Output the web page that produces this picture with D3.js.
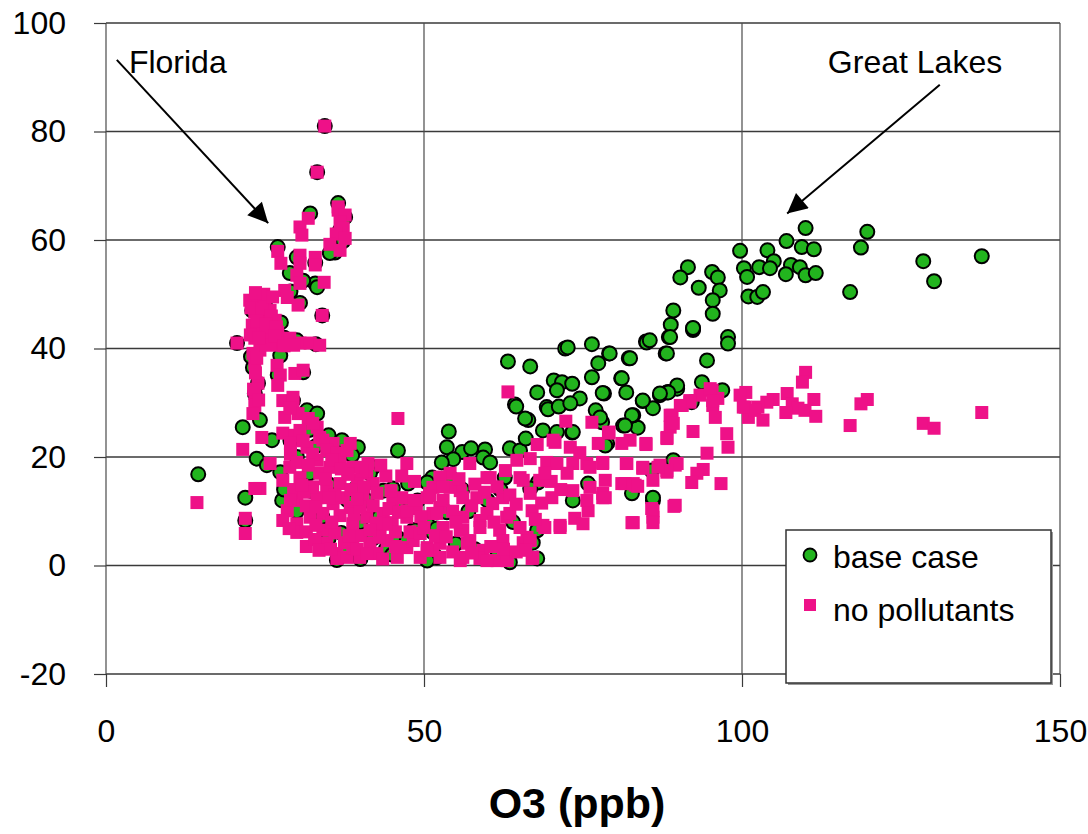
<!DOCTYPE html>
<html>
<head>
<meta charset="utf-8">
<script src="https://cdn.jsdelivr.net/npm/d3@7"></script>
<style>
  html, body { margin: 0; padding: 0; background: #fff; }
  svg { display: block; font-family: "Liberation Sans", Arial, sans-serif; }
</style>
</head>
<body>
<svg id="chart" width="1088" height="834"></svg>
<script>
// O3 (ppb) vs. response, two model runs
const xTicks = [0, 50, 100, 150];
const yTicks = [-20, 0, 20, 40, 60, 80, 100];
const seriesNames = ["base case", "no pollutants"];
const xTitle = "O3 (ppb)";

// base case: [O3 ppb, value]
const baseCase = [
  // Florida branch
  [34.4,81],[33.2,72.5],[36.5,66.8],[32.1,64.9],[37.6,64.2],[36.8,61.8],[37.3,59.8],[36,57.7],[35.2,57.6],
  [27,58.7],[30,56.8],[32.9,55.8],[28.9,53.9],[32.9,52],[33.2,51.3],[34,46.1],[29,50.5],[31,52.5],[30.5,48.4],
  [23.1,36.5],[27.4,38.7],[31,35.6],[20.6,41],[24,44],[26,41.2],[23,47],[25,48],[28,42],[30,41.5],[33,40.8],
  [27.5,44.8],[22.8,38.5],[23.9,33.6],[23.4,31.7],[27,35.1],[29.4,30.4],
  [21.5,25.5],[24.2,26.8],[23.7,19.7],[25.3,18.5],[26.1,23.1],[31.6,28.6],[33.2,28],[37.1,23.1],[39.6,21.8],
  [38.7,20.3],[42,18.1],[41.5,17],[45.9,21.2],[47.5,15.1],[47.5,11.4],[43.6,13.8],[45.1,14.2],[45.9,10.7],
  [32.1,13.8],[27.7,12],[27.4,17.2],[36.3,1],[48.3,6.5],[50.5,7],[51.4,6.1],[51.4,2.2],[14.5,16.8],[21.9,12.5],[21.9,8.3],
  [30,20],[33,22],[35,15],[38,12],[40,8],[42,5],[35,5],[38,2.5],[40,1.2],[44,3],[46,5],[30,10],[28,14],[32,17],
  [36,19],[34,9],[37,6],[39,14],[43,9],[45,2],[41,12],[29,23],[32,25],[35,24],
  // trough
  [53.9,24.7],[53.6,21.8],[56,20.9],[57.4,21.6],[59.6,21.4],[59.3,19.9],[60.4,19],[54.6,19.6],[52.8,19],[51.3,16.2],
  [50.5,15.3],[62.7,16.2],[63.5,21.6],[65.1,21.2],[66,23.4],[53.6,9.8],[48.6,6.5],[50.5,7.7],[52,6.8],[67.8,6.5],
  [67.8,1.3],[61.5,2.8],[52,1.5],[47.3,4.6],[73.4,12],[75.8,15.1],[63.5,0.6],[50.5,0.9],[67.9,15.3],[66.7,14.2],
  [67.1,4.2],[55,4],[58,3],[57,10],[60,12],[64,8],[62,14],[56,14],[49,12],[54,16.5],
  // rising branch
  [64.3,29.7],[69.3,29.2],[66.4,26.8],[73.3,24.5],[63.2,37.6],[66.7,36.7],[72.2,40],[72.6,40.2],[76.4,40.8],[79.1,39.1],
  [82.2,38.2],[84.9,41.3],[88.5,42.1],[88,39.1],[92.3,43.4],[77.4,37.3],[70.4,34.1],[71.7,33.8],[73.3,33.5],[76.4,34.7],
  [81,34.5],[67.8,31.9],[70.9,32.3],[74.5,30.8],[78.3,31.7],[81.8,31.9],[64.5,29.3],[69.5,28.8],[71.2,29.3],[73,29.9],
  [77,28.6],[84.4,30.3],[86,29],[87.1,31.4],[88.2,31.9],[65.9,27.1],[68.7,24.9],[70.9,24.6],[73.4,24.6],[78,26.4],
  [81.3,25.8],[83.6,25.4],[82.9,27.7],[78.8,22.5],[79.2,39.1],[82.4,38.2],[81.1,34.5],[78.1,31.8],[84.4,30.4],[88.4,32],
  [89.8,32.6],[92.1,30.1],[82.7,27.7],[81.6,25.8],[77.7,27.3],[78.5,22.1],[85.8,17.5],[82.7,13.3],[86,12],[89.2,19.4],
  [85,41.1],[92.3,43.7],[88.8,44.4],
  // Great Lakes
  [110,62.2],[119.7,61.5],[118.7,58.6],[128.5,56.1],[130.2,52.4],[137.7,57],[117,50.4],[107,59.8],[109.4,58.7],[111.3,58.3],
  [104,58.1],[105,56.1],[99.7,58],[100.3,54.8],[100.8,53.2],[102.7,55],[104.4,54.8],[107.7,55.4],[109.1,55],[106.9,53.7],
  [110,53.5],[111.6,53.9],[101,49.6],[102.4,49.5],[103.3,50.4],[91.5,55],[90.3,53.1],[95.3,54.1],[96.2,53.1],[93.2,51.2],
  [96.5,50.7],[95.4,48.9],[95.4,46.4],[89.2,47],[92.3,43.8],[88.7,42.1],[97.8,42.1],[97.8,40.9],[88.2,39.1],[94.5,37.8],
  [85.5,41.5],[93.7,33.8],[89.8,33.2],[88.4,31.9],[87.1,31.7],[96.9,32.3],[86,12.5]
];

// no pollutants: [O3 ppb, value]
const noPollutants = [
  // Florida branch
  [34.4,81],[33.2,72.5],[36.5,66.1],[31.8,64],[30.5,62.4],[30.8,60.9],[36.5,65.5],[37.6,64.6],[36.8,63.3],[37.3,62.2],
  [36.2,61.1],[37.6,60.3],[35.2,59.2],[36.8,58.1],[27,57.9],[27.5,55.7],[30.5,57.2],[30.5,55.7],[32.9,56.8],[32.9,55.4],
  [30,53.5],[30.5,52],[34.3,52.2],[34,46.1],[28.1,50.7],[28.5,49.4],[30.2,48],
  [22.6,48.9],[23.9,48],[25,48.9],[23.4,46.7],[24.5,45.6],[25.8,47],[26.6,45.2],[23,44.3],[24.2,43.4],[25.5,43.7],
  [27,43],[23.4,41.9],[25,41.5],[26.1,40.6],[27.8,41.1],[28.9,41.9],[30.5,41],[32.1,41],[33.6,40.6],[20.6,41],[24.2,39.7],
  [22.8,47.5],[24.5,47.2],[26,46],[23.7,45],[25.2,44.5],[26.8,44],[22.7,42.5],[24,42],[26.5,42.3],[28,40.5],[29.5,40.6],
  [24.8,50],[26.2,49.5],[23.5,50.3],
  [23.1,39.1],[23.4,37.3],[23.9,33.6],[23.4,31.7],[23.4,29.5],[23.1,28],[23.5,35.5],[23.2,32.5],[24,30.5],[23.7,38.2],
  [26.9,36.9],[27.4,35.1],[27,33.2],[29.7,35.4],
  [31,36],[27.8,30.4],[29.4,30.1],[28.1,27.3],[30.2,28],[31.8,27.1],[33.2,25.5],[24.5,23.6],[21.5,21.4],[27.8,24.4],
  [29.7,24],[25.8,18.8],[24.2,14.2],[23.4,14.2],[21.9,8.7],[21.9,5.9],[14.3,11.6],[45.9,27.1],[47.3,18.8],[29.4,31],
  [28.9,29],[32.5,26.2],[30.5,24.9],[33.6,23.6],[35.7,22.5],
  [34.1,23.1],[31.6,21.8],[34.7,21.2],[36.3,20.7],[33.2,19.4],[28.9,18.1],[27.8,15.7],[30.5,16.2],[33.6,17],[35.2,18.1],
  [36.8,19.4],[37.9,21.2],[39.5,18.1],[41,17],[42,15.1],[39.5,15.7],[36.8,15.1],[34.7,14.4],[33.2,12.5],[30,12],
  [28.5,10.1],[27.8,8.3],[30,7.7],[30,6.1],[32.1,8.9],[34.1,9.6],[35.7,11.4],[37.3,12.5],[38.4,10.7],[40.4,12.5],
  [42.6,13.3],[43.6,9.6],[45.1,12],[45,7.9],[43.1,7],[41,8.9],[38.8,7.7],[34.1,6.5],[34.7,4.1],[36.3,2.2],
  [36.3,1.3],[37.9,1.5],[38.8,3.3],[39.9,1.5],[41.5,4.1],[42.6,2.2],[44.2,4.6],[45.8,1.5],[47.3,3.3],[47.3,8.9],
  [41.2,18.8],[40.3,17.5],[38.4,22.5],[38.8,18.1],[50.9,13.3],[51.4,9.6],[48.3,4.6],[50.5,3.3],[49.4,1.5],[31.5,3.5],
  [32.5,14.5],[29,20.5],[36,6],[40,5.5],
  [29,22.5],[31,23],[32.5,20.5],[35.5,19.5],[30,19],[31.8,18.5],[34.5,16],[29.5,14],[31.2,13.5],[36,13],
  [38.5,14],[29,12],[31.5,11],[33,10.8],[36.8,9.2],[28.8,6.8],[31.5,6.2],[33,7.4],[35.5,8],[32.8,4.8],
  [37.5,4.2],[39,9.5],[40,10.8],[42,11],[44.5,10.5],[46,9.8],[43,5.2],[45.5,6.2],[39.5,3],[41,2.2],
  [43.5,1.2],[44,7.6],[40.5,14.5],[38,16.8],[37,17.8],[35,12.5],[30.8,14.8],
  [38.2,5.5],[42.5,7.8],[46.5,12.5],[44.8,13.8],[47.8,6.2],[41.5,6.5],[39.5,12.2],[45.5,3.5],[33.5,2.8],[35.3,3],
  [48.8,10.5],[46.5,16.5],[44,16.5],[43.2,18.5],
  // trough
  [51.4,14.4],[47.3,10.1],[49.4,5.9],[52.5,4.1],[56.8,4.1],[59.3,2.8],[63,1.5],[67.1,1.5],[55.7,0.9],[58.8,1.3],
  [61.5,0.9],[51.4,2.8],[65.6,4.2],[52.5,10.7],[50.5,12.5],[55.7,13.8],[58.3,12.5],[60.8,11.4],[63,8.9],[58.8,8.3],
  [55.7,6.5],[54.1,17],[57.2,18.8],[60.4,16.2],[65.1,16.2],[68.2,15.7],[64.6,19.4],[66.7,19.7],[69.3,19],[70.9,18.8],
  [73.4,18.8],[75.6,18.8],[78.1,19],[81.9,18.8],[84.4,18.1],[89.5,18.5],[72.5,17],[73.4,13.8],[76.1,14.4],[78.1,13.3],
  [81.1,15.1],[83.2,14.8],[86,10.1],[89.5,11.1],[75.8,10.1],[73.7,8.7],[71.4,7],[69,7],[67,10.1],[66.2,5.2],
  [70.6,22.7],[76.1,18.1],[59.9,16.2],[65.6,15.7],[50.9,12.9],[53,12],[56.1,12.5],[62.4,12.5],[66.7,13.3],[70.1,12.5],
  [75.6,12],[78.1,12.5],[52,9.6],[56.1,8.9],[59.9,9.6],[63.5,9.6],[71.4,7.4],[75,7.7],[82.9,7.9],[86,8.9],
  [53,7],[56.1,6.5],[58.8,7],[61.9,6.5],[65.1,7],[68.7,7.4],[57.2,4.6],[62.4,4.6],[66.7,4.6],[56.1,1.5],
  [59.9,0.9],[63.1,0.9],[67,1.3],[50.5,2.8],[52.5,1.5],[54.1,14.4],
  [48.5,12],[49.5,9],[50,7],[51.8,5.5],[53.5,5.3],[54.5,2.5],[57.5,2.3],[60.5,3.5],[62.5,3],[64.5,2.5],
  [66,2.8],[54.5,10],[55,8],[57.5,11],[59.5,13.5],[61.5,14.5],[63.5,13],[64.5,11.3],[61,8],[67.5,8.5],
  [68.5,11.5],[70,15.5],[71.5,14],[69,17],[62.8,17.5],[58,15],[55.5,16],[52.5,16.3],[48.5,15.5],[53,14.5],
  // rising branch
  [63.2,32],[72.3,26.6],[76.4,26.4],[79.1,24.6],[77.4,22.5],[67.8,22.3],[70.3,23.1],[82.4,23.1],[84.9,22.5],[88.2,23.6],
  [73,21.8],[74.5,20.8],[79,24.4],[81.1,22.5],[84.9,22.3],[78.1,18.8],[81.8,18.8],[84.4,17.9],[87.1,18.5],[88.2,17.2],
  [78.5,15.7],[78.5,12.5],[81.6,15.1],[82.9,15.1],[83.6,14.6],[85.8,10.5],[86,7.9],[89.3,10.9],[82.7,7.9],
  // Great Lakes
  [110,35.6],[109.5,33.8],[100.6,31.9],[99.7,31.4],[107.1,31.7],[111.3,30.6],[104.9,30.6],[103.9,30.1],[102.5,29.2],[107.9,29.8],
  [108.8,29],[109.9,28.6],[100.5,29.2],[101,27.3],[102,28.6],[106.9,28.2],[111.6,27.5],[103.3,26.8],[119.7,30.6],[118.7,29.8],
  [117,25.8],[128.5,26.2],[130.2,25.3],[137.7,28.2],[95.3,32.3],[96.2,30.8],[95.4,29.5],[95.8,27.3],[93.4,31.4],[91.8,30.1],
  [90.6,29.5],[89,27.7],[88.7,25.5],[88.2,23.4],[92.3,24.7],[97.6,24.3],[97.8,21.8],[94.5,20.7],[93.9,17.7],[92.9,17],
  [92.1,15.3],[96.7,15.1],[89.8,18.8],[88.2,17.5],[86.8,18.1],[86,15.7],[95,32.6],[95.4,30.4],[91.8,30.4],[90.3,29.5],
  [88.7,27.7],[89.2,26.2],[100.2,29.2]
];

// callouts: label position and arrow (from -> to), in data units
const callouts = [
  { text: "Florida",     tx: 3.6,   ty: 90.7, from: [1.7, 93.2],  to: [25.5, 63.1] },
  { text: "Great Lakes", tx: 113.5, ty: 90.7, from: [131.1, 88.6], to: [107.1, 64.9] }
];

const GREEN = "#22b41e";
const PINK = "#ee1188";
const FONT = "'Liberation Sans', Arial, sans-serif";

const svg = d3.select("#chart");
const margin = { top: 23, right: 28, bottom: 160, left: 106 };
const W = 1088, H = 834;
const innerW = W - margin.left - margin.right;
const innerH = H - margin.top - margin.bottom;

const x = d3.scaleLinear().domain([0, 150]).range([0, innerW]);
const y = d3.scaleLinear().domain([-20, 100]).range([innerH, 0]);

const g = svg.append("g").attr("transform", `translate(${margin.left},${margin.top})`);

// grid
g.append("g").selectAll("line").data(yTicks).join("line")
  .attr("x1", 0).attr("x2", innerW)
  .attr("y1", d => y(d)).attr("y2", d => y(d))
  .attr("stroke", "#3a3a3a").attr("stroke-width", 1.3);
g.append("g").selectAll("line").data(xTicks).join("line")
  .attr("x1", d => x(d)).attr("x2", d => x(d))
  .attr("y1", 0).attr("y2", innerH)
  .attr("stroke", "#4a4a4a").attr("stroke-width", 1.2);

// axes (plain hyphen for negatives)
const fmt = d => String(d);
const yAxis = g.append("g")
  .call(d3.axisLeft(y).tickValues(yTicks).tickSize(12).tickPadding(28).tickFormat(fmt));
const xAxis = g.append("g").attr("transform", `translate(0,${innerH})`)
  .call(d3.axisBottom(x).tickValues(xTicks).tickSize(13).tickPadding(32).tickFormat(fmt));
[yAxis, xAxis].forEach(a => {
  a.select(".domain").remove();
  a.selectAll(".tick line").attr("stroke", "#3a3a3a").attr("stroke-width", 1.2);
  a.selectAll(".tick text").attr("fill", "#000").style("font-size", "32px").style("font-family", FONT);
});

// points
g.append("g").selectAll("circle").data(baseCase).join("circle")
  .attr("cx", d => x(d[0])).attr("cy", d => y(d[1])).attr("r", 7)
  .attr("fill", GREEN).attr("stroke", "#000").attr("stroke-width", 2);

const sq = 13;
g.append("g").selectAll("rect").data(noPollutants).join("rect")
  .attr("x", d => x(d[0]) - sq / 2).attr("y", d => y(d[1]) - sq / 2)
  .attr("width", sq).attr("height", sq).attr("fill", PINK);

// callouts
svg.append("defs").append("marker")
  .attr("id", "arrowhead").attr("viewBox", "0 0 10 10")
  .attr("refX", 10).attr("refY", 5)
  .attr("markerWidth", 26).attr("markerHeight", 20)
  .attr("markerUnits", "userSpaceOnUse")
  .attr("orient", "auto")
  .append("path").attr("d", "M0,0 L10,5 L0,10 Z").attr("fill", "#000");

const co = g.append("g");
callouts.forEach(c => {
  co.append("line")
    .attr("x1", x(c.from[0])).attr("y1", y(c.from[1]))
    .attr("x2", x(c.to[0])).attr("y2", y(c.to[1]))
    .attr("stroke", "#000").attr("stroke-width", 2)
    .attr("marker-end", "url(#arrowhead)");
  co.append("text")
    .attr("x", x(c.tx)).attr("y", y(c.ty))
    .style("font-size", "32px").style("font-family", FONT).attr("fill", "#000")
    .text(c.text);
});

// legend
const lg = g.append("g").attr("transform", `translate(${innerW - 274},${innerH - 144})`);
lg.append("rect").attr("x", 2).attr("y", 2).attr("width", 265).attr("height", 153).attr("fill", "#9a9a9a");
lg.append("rect").attr("width", 265).attr("height", 153)
  .attr("fill", "#fff").attr("stroke", "#333").attr("stroke-width", 1.5);
lg.append("circle").attr("cx", 24).attr("cy", 25).attr("r", 6.5)
  .attr("fill", GREEN).attr("stroke", "#000").attr("stroke-width", 1.8);
lg.append("rect").attr("x", 18).attr("y", 69).attr("width", 12).attr("height", 12).attr("fill", PINK);
lg.selectAll("text").data(seriesNames).join("text")
  .attr("x", 47).attr("y", (d, i) => 38 + i * 53)
  .style("font-size", "32px").style("font-family", FONT).attr("fill", "#000")
  .text(d => d);

// x-axis title
svg.append("text")
  .attr("x", margin.left + x(75) - 6).attr("y", 818)
  .attr("text-anchor", "middle")
  .style("font-size", "43px").style("font-weight", "bold").style("font-family", FONT)
  .text(xTitle);
</script>
</body>
</html>
